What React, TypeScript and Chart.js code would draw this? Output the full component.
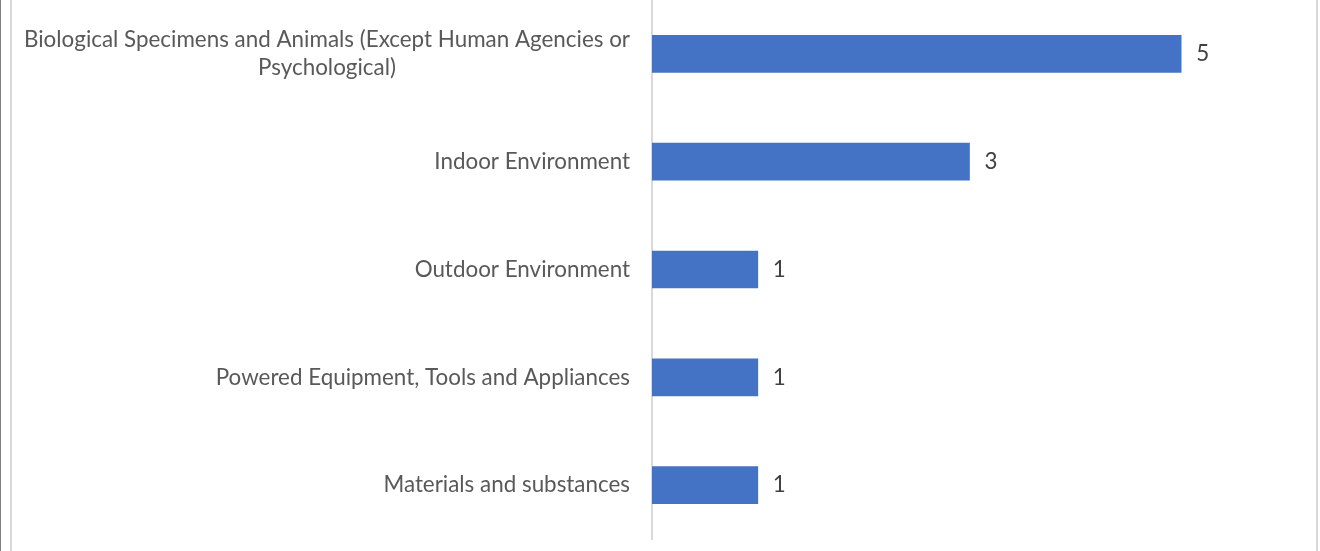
import React, { useEffect, useRef } from "react";
import { Chart, registerables } from "chart.js";

Chart.register(...registerables);

const categories: string[][] = [
  ["Biological Specimens and Animals (Except Human Agencies or", "Psychological)"],
  ["Indoor Environment"],
  ["Outdoor Environment"],
  ["Powered Equipment, Tools and Appliances"],
  ["Materials and substances"],
];
const values: number[] = [5, 3, 1, 1, 1];

const FONT_FAMILY = "Lato, 'Open Sans', sans-serif";
const FONT_SIZE = 22.4;

export default function App() {
  const ref = useRef<HTMLCanvasElement | null>(null);

  useEffect(() => {
    document.body.style.margin = "0";
    const canvas = ref.current;
    if (!canvas) return;

    const labelPlugin = {
      id: "customLabels",
      afterDraw(chart: any) {
        const ctx = chart.ctx;
        const yScale = chart.scales.y;
        ctx.save();
        ctx.font = `${FONT_SIZE}px ${FONT_FAMILY}`;
        ctx.fillStyle = "#595959";
        ctx.textBaseline = "middle";
        ctx.textAlign = "center";
        const right = chart.chartArea.left - 22;
        const lh = 28;
        categories.forEach((lines, i) => {
          const y = yScale.getPixelForTick(i);
          let maxW = 0;
          lines.forEach((l) => {
            maxW = Math.max(maxW, ctx.measureText(l).width);
          });
          const cx = right - maxW / 2;
          const y0 = y - ((lines.length - 1) * lh) / 2;
          lines.forEach((l, j) => ctx.fillText(l, cx, y0 + j * lh));
        });
        // value labels
        const meta = chart.getDatasetMeta(0);
        ctx.textAlign = "left";
        ctx.fillStyle = "#404040";
        meta.data.forEach((bar: any, i: number) => {
          ctx.fillText(String(values[i]), bar.x + 15, bar.y);
        });
        ctx.restore();
      },
    };

    const chart = new Chart(canvas, {
      type: "bar",
      data: {
        labels: categories.map((c) => c.join(" ")),
        datasets: [
          {
            data: values,
            backgroundColor: "#4472C4",
            barThickness: 37,
          },
        ],
      },
      options: {
        indexAxis: "y",
        animation: false,
        responsive: false,
        maintainAspectRatio: false,
        layout: { padding: { left: 0, right: 33, top: 0, bottom: 12 } },
        plugins: { legend: { display: false }, tooltip: { enabled: false } },
        scales: {
          x: { display: false, min: 0, max: 6 },
          y: {
            grid: { display: false },
            border: { display: true, color: "#d9d9d9", width: 2 },
            ticks: { display: false },
            afterFit(scale: any) {
              scale.width = 652;
            },
          },
        },
      },
      plugins: [labelPlugin],
    });
    return () => chart.destroy();
  }, []);

  return (
    <div style={{ position: "absolute", left: 0, top: 0, width: 1320, height: 551, background: "#fff", overflow: "hidden" }}>
      <canvas ref={ref} width={1320} height={551} style={{ position: "absolute", left: 0, top: 0 }} />
      <div style={{ position: "absolute", left: 0, top: 0, width: 1, height: 551, background: "#7f7f7f" }} />
      <div style={{ position: "absolute", left: 10, top: 0, width: 2, height: 551, background: "#d9d9d9" }} />
      <div style={{ position: "absolute", left: 1316, top: 0, width: 2, height: 551, background: "#d9d9d9" }} />
    </div>
  );
}
